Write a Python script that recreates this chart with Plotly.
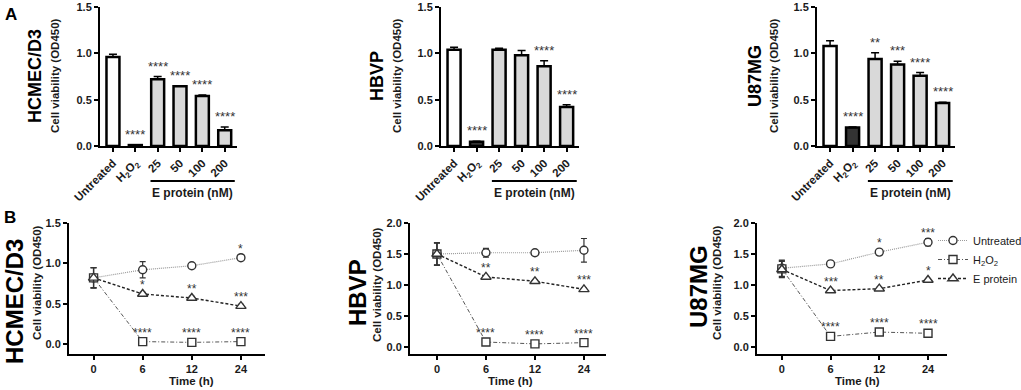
import plotly.graph_objects as go

W, H = 1021, 390

# ---------------- DATA ----------------
bar_labels = ["Untreated", "H<sub>2</sub>O<sub>2</sub>", "25", "50", "100", "200"]

hcmec_bar = [0.96, 0.01, 0.72, 0.645, 0.54, 0.17]
hcmec_bar_err = [0.03, 0.004, 0.03, 0.006, 0.01, 0.035]
hcmec_bar_sig = ["", "****", "****", "****", "****", "****"]

hbvp_bar = [1.04, 0.047, 1.04, 0.98, 0.86, 0.42]
hbvp_bar_err = [0.025, 0.005, 0.015, 0.05, 0.06, 0.025]
hbvp_bar_sig = ["", "****", "", "", "****", "****"]

u87_bar = [1.08, 0.20, 0.94, 0.88, 0.757, 0.464]
u87_bar_err = [0.055, 0.005, 0.065, 0.035, 0.035, 0.008]
u87_bar_sig = ["", "****", "**", "***", "****", "****"]

time_labels = ["0", "6", "12", "24"]

hcmec_untr = [0.82, 0.92, 0.97, 1.07]
hcmec_untr_err = [0.125, 0.10, 0.015, 0.03]
hcmec_untr_sig = ["", "", "", "*"]
hcmec_h2o2 = [0.82, 0.03, 0.02, 0.03]
hcmec_h2o2_err = [0.125, 0.01, 0.01, 0.01]
hcmec_h2o2_sig = ["", "****", "****", "****"]
hcmec_ep = [0.82, 0.62, 0.57, 0.47]
hcmec_ep_err = [0.125, 0.02, 0.02, 0.02]
hcmec_ep_sig = ["", "*", "**", "***"]

hbvp_untr = [1.50, 1.52, 1.52, 1.56]
hbvp_untr_err = [0.18, 0.07, 0.02, 0.19]
hbvp_untr_sig = ["", "", "", ""]
hbvp_h2o2 = [1.50, 0.08, 0.05, 0.07]
hbvp_h2o2_err = [0.18, 0.01, 0.01, 0.01]
hbvp_h2o2_sig = ["", "****", "****", "****"]
hbvp_ep = [1.50, 1.13, 1.06, 0.93]
hbvp_ep_err = [0.18, 0.02, 0.02, 0.02]
hbvp_ep_sig = ["", "**", "**", "***"]

u87_untr = [1.27, 1.34, 1.53, 1.69]
u87_untr_err = [0.13, 0.02, 0.04, 0.06]
u87_untr_sig = ["", "", "*", "***"]
u87_h2o2 = [1.26, 0.17, 0.24, 0.22]
u87_h2o2_err = [0.13, 0.01, 0.01, 0.01]
u87_h2o2_sig = ["", "****", "****", "****"]
u87_ep = [1.25, 0.91, 0.94, 1.08]
u87_ep_err = [0.13, 0.02, 0.02, 0.02]
u87_ep_sig = ["", "***", "**", "*"]

cell_lines = ["HCMEC/D3", "HBVP", "U87MG"]
series_names = ["Untreated", "H<sub>2</sub>O<sub>2</sub>", "E protein"]

# ---------------- STYLE ----------------
FONT = "Arial, Liberation Sans, sans-serif"
TXT = "#1a1a1a"
bar_fill = ["white", "#333333", "#d9d9d9", "#d9d9d9", "#d9d9d9", "#d9d9d9"]
line_styles = [
    dict(color="#9a9a9a", width=1.2, dash="1px,1px"),
    dict(color="#555555", width=1.0, dash="4px,2px,1px,2px"),
    dict(color="#222222", width=1.4, dash="3px,2px"),
]
marker_symbols = ["circle", "square", "triangle-up"]


def fx(p):
    return p / W


def fy(p):
    return 1 - p / H


def txt(x, y, text, size, xref="paper", yref="paper", angle=0, color=TXT, bold=True):
    return dict(x=x, y=y, xref=xref, yref=yref, text=text, textangle=angle,
                showarrow=False, xanchor="center", yanchor="middle",
                font=dict(family=FONT, size=size, color=color,
                          weight="bold" if bold else "normal"))


fig = go.Figure()

# ---------- Panel A (bars) ----------
a_xdom = [(100, 237), (441, 579), (817, 955)]
a_bars = [hcmec_bar, hbvp_bar, u87_bar]
a_errs = [hcmec_bar_err, hbvp_bar_err, u87_bar_err]
a_sigs = [hcmec_bar_sig, hbvp_bar_sig, u87_bar_sig]
a_title_x = [(35, 55), (377, 397), (755, 774)]

annotations = []
shapes = []
layout_axes = {}
idx = list(range(len(bar_labels)))

for i in range(3):
    n = i + 1
    xa = "x" if n == 1 else f"x{n}"
    ya = "y" if n == 1 else f"y{n}"
    fig.add_trace(go.Bar(
        x=idx, y=a_bars[i], xaxis=xa, yaxis=ya, width=0.58,
        marker=dict(color=bar_fill, line=dict(color="black", width=2.5)),
        error_y=dict(type="data", array=a_errs[i], arrayminus=[0] * 6,
                     symmetric=False, color="black", thickness=1.5, width=4),
        showlegend=False, hoverinfo="skip",
    ))
    layout_axes[f"xaxis{'' if n == 1 else n}"] = dict(
        domain=[fx(a_xdom[i][0]), fx(a_xdom[i][1])], range=[-0.58, 5.55],
        anchor=ya, tickvals=idx, ticktext=bar_labels, tickangle=-45,
        showline=True, linecolor="black", linewidth=2, ticks="outside",
        ticklen=4, tickwidth=2, tickcolor="black", showgrid=False, zeroline=False,
        tickfont=dict(family=FONT, size=11.5, color=TXT, weight="bold"),
    )
    layout_axes[f"yaxis{'' if n == 1 else n}"] = dict(
        domain=[fy(146), fy(7)], range=[0, 1.5], anchor=xa, dtick=0.5,
        tickformat=".1f", showline=True, linecolor="black", linewidth=2,
        ticks="outside", ticklen=4, tickwidth=2, tickcolor="black",
        showgrid=False, zeroline=False,
        tickfont=dict(family=FONT, size=11, color=TXT, weight="bold"),
    )
    for k, s in enumerate(a_sigs[i]):
        if s:
            annotations.append(dict(
                x=k, y=a_bars[i][k] + a_errs[i][k], xref=xa, yref=ya, text=s,
                showarrow=False, xanchor="center", yanchor="bottom", yshift=1,
                font=dict(family=FONT, size=13, color="#333333")))
    shapes.append(dict(type="line", xref=xa, yref="paper", x0=1.68, x1=5.45,
                       y0=fy(181), y1=fy(181), line=dict(color="black", width=2)))
    annotations.append(txt(3.56, fy(193), "E protein (nM)", 12, xref=xa))
    annotations.append(txt(fx(a_title_x[i][0]), fy(76), cell_lines[i], 18,
                           angle=-90, color="black"))
    annotations.append(txt(fx(a_title_x[i][1]), fy(76), "Cell viability (OD450)", 11.5,
                           angle=-90))

# ---------- Panel B (time course) ----------
b_xdom = [(69, 265), (410, 606), (757, 947)]
b_xrange = [[-0.5, 3.49], [-0.55, 3.45], [-0.51, 3.39]]
b_yrange = [[-0.124, 1.5], [-0.113, 2.0], [-0.114, 2.0]]
b_series = [
    [(hcmec_untr, hcmec_untr_err, hcmec_untr_sig),
     (hcmec_h2o2, hcmec_h2o2_err, hcmec_h2o2_sig),
     (hcmec_ep, hcmec_ep_err, hcmec_ep_sig)],
    [(hbvp_untr, hbvp_untr_err, hbvp_untr_sig),
     (hbvp_h2o2, hbvp_h2o2_err, hbvp_h2o2_sig),
     (hbvp_ep, hbvp_ep_err, hbvp_ep_sig)],
    [(u87_untr, u87_untr_err, u87_untr_sig),
     (u87_h2o2, u87_h2o2_err, u87_h2o2_sig),
     (u87_ep, u87_ep_err, u87_ep_sig)],
]
b_title_pos = [((14, 302), (37, 283)), ((357, 293), (377, 285)), ((698, 287), (717, 283))]
b_time_x = [2.0, 1.51, 1.56]
tidx = list(range(len(time_labels)))

for i in range(3):
    n = i + 4
    xa, ya = f"x{n}", f"y{n}"
    for s in range(3):
        vals, errs, sigs = b_series[i][s]
        fig.add_trace(go.Scatter(
            x=tidx, y=vals, xaxis=xa, yaxis=ya, mode="lines+markers",
            name=series_names[s], legendgroup=series_names[s], showlegend=(i == 2),
            line=line_styles[s],
            marker=dict(symbol=marker_symbols[s], size=8 if s != 2 else 9, color="white",
                        line=dict(color="#333333", width=1.4)),
            error_y=dict(type="data", array=errs, color="#333333", thickness=1.2, width=3),
            hoverinfo="skip",
        ))
        for k, st in enumerate(sigs):
            if st:
                annotations.append(dict(
                    x=k, y=vals[k], xref=xa, yref=ya, text=st, showarrow=False,
                    xanchor="center", yanchor="middle", yshift=9,
                    font=dict(family=FONT, size=12, color="#333333")))
    layout_axes[f"xaxis{n}"] = dict(
        domain=[fx(b_xdom[i][0]), fx(b_xdom[i][1])], range=b_xrange[i],
        anchor=ya, tickvals=tidx, ticktext=time_labels,
        showline=True, linecolor="black", linewidth=2, ticks="outside",
        ticklen=4, tickwidth=2, tickcolor="black", showgrid=False, zeroline=False,
        tickfont=dict(family=FONT, size=11, color=TXT, weight="bold"),
    )
    layout_axes[f"yaxis{n}"] = dict(
        domain=[fy(354), fy(223)], range=b_yrange[i], anchor=xa, dtick=0.5,
        tick0=0, tickformat=".1f", showline=True, linecolor="black", linewidth=2,
        ticks="outside", ticklen=4, tickwidth=2, tickcolor="black",
        showgrid=False, zeroline=False,
        tickfont=dict(family=FONT, size=11, color=TXT, weight="bold"),
    )
    annotations.append(txt(b_time_x[i], fy(381), "Time (h)", 11.5, xref=xa))
    (tx1, ty1), (tx2, ty2) = b_title_pos[i]
    annotations.append(txt(fx(tx1), fy(ty1), cell_lines[i], 24, angle=-90, color="black"))
    annotations.append(txt(fx(tx2), fy(ty2), "Cell viability (OD450)", 11.5, angle=-90))

# panel letters
annotations.append(txt(fx(11), fy(15), "A", 17, color="black"))
annotations.append(txt(fx(10), fy(217), "B", 17, color="black"))

fig.update_layout(
    width=W, height=H, margin=dict(l=0, r=0, t=0, b=0, pad=0, autoexpand=False),
    paper_bgcolor="white", plot_bgcolor="white",
    annotations=annotations, shapes=shapes,
    legend=dict(x=fx(933), y=fy(226), xanchor="left", yanchor="top",
                font=dict(family=FONT, size=11, color=TXT), bgcolor="rgba(0,0,0,0)",
                itemwidth=30, tracegroupgap=0),
    **layout_axes,
)

fig.write_html("out.html", config={"displayModeBar": False},
               post_script="document.body.style.margin='0';document.body.style.overflow='hidden';")
